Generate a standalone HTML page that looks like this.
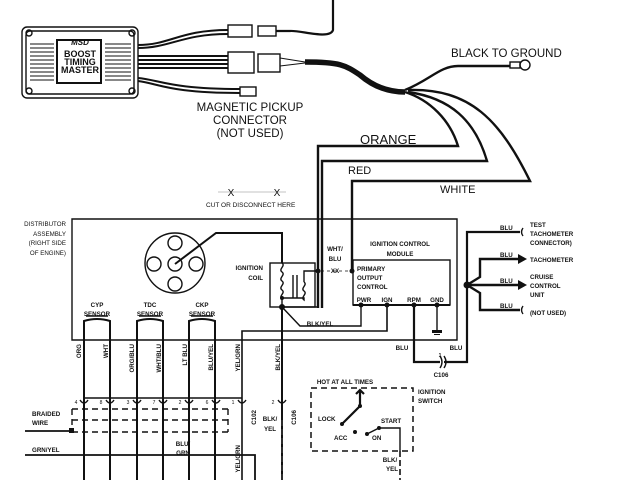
<!DOCTYPE html>
<html><head><meta charset="utf-8"><style>
html,body{margin:0;padding:0;background:#fff;}
svg{display:block}
text{font-family:"Liberation Sans",sans-serif;fill:#111}
</style></head><body>
<svg width="640" height="480" viewBox="0 0 640 480" xmlns="http://www.w3.org/2000/svg">
<rect width="640" height="480" fill="#fff"/>
<g fill="none" stroke="#111" stroke-width="1.4">
<rect x="22" y="27" width="116" height="71" rx="5"/>
<rect x="26" y="31" width="108" height="63" rx="4"/>
<circle cx="29" cy="33" r="3"/><circle cx="132" cy="33" r="3"/><circle cx="29" cy="91" r="3"/><circle cx="132" cy="91" r="3"/>
<rect x="57" y="40" width="44" height="43" stroke-width="2"/>
<g stroke-width="1">
<path d="M30 44h24M30 48h24M30 52h24M30 56h24M30 60h24M30 64h24M30 68h24M30 72h24M30 76h24M30 80h24"/>
<path d="M105 44h26M105 48h26M105 52h26M105 56h26M105 60h26M105 64h26M105 68h26M105 72h26M105 76h26M105 80h26"/>
</g>
<g stroke-width="2">
<path d="M138 45 C170 45,180 30,228 30"/><path d="M138 48 C170 48,182 34,228 34"/>
<path d="M138 56h90M138 60h90M138 64h90M138 68h90"/>
<path d="M138 78 C160 80,170 89,240 89"/><path d="M138 81 C160 84,170 93,240 93"/>
</g>
<rect x="228" y="25" width="24" height="12"/><rect x="258" y="26" width="18" height="10"/>
<rect x="228" y="52" width="26" height="21"/><rect x="258" y="54" width="22" height="18"/>
<rect x="240" y="87" width="16" height="9"/>
<path d="M276 31 H290 C300 30,330 40,333 30 V0" stroke-width="2.2"/>
<path d="M280 58 L305 62 M280 66 L305 63" stroke-width="1"/>
<path d="M305 62 C340 62,345 65,360 75 C375 88,390 92,405 92" stroke-width="5.5"/>
<path d="M405 90 C430 80,440 66,458 66 H510" stroke-width="2.4"/>
<rect x="510" y="62" width="10" height="6"/><circle cx="525" cy="65" r="5"/>
<path d="M405 92 C430 100,450 120,458 146 H318 V308" stroke-width="2.4"/>
<path d="M408 92 C450 98,475 120,487 161 H322 V308" stroke-width="2.4"/>
<path d="M408 90 C470 88,500 120,530 181 H352 V271" stroke-width="2.4"/>
<path d="M218 192h68" stroke-width="0.6" stroke="#888"/>
<path d="M72 219 H457 V340 H72 Z" stroke-width="1.4"/>
<circle cx="175" cy="263" r="30"/>
<circle cx="175" cy="243" r="7"/><circle cx="175" cy="284" r="7"/><circle cx="154" cy="264" r="7"/><circle cx="196" cy="264" r="7"/><circle cx="175" cy="264" r="7"/>
<path d="M175 264 L216 233 H282 V263" stroke-width="2"/>
<rect x="270" y="263" width="45" height="44"/>
<path d="M282 263 c4 3-4 6 0 9 c4 3-4 6 0 9 c4 3-4 6 0 9 c4 3-4 6 0 9" />
<path d="M282 298 V307"/><path d="M293 275 V298 M297 275 V298"/>
<path d="M304 282 c4 3-4 6 0 9 c4 3-4 6 0 9 V298 H282"/>
<path d="M304 282 V271 H318"/>
<path d="M315 271 H352" stroke-dasharray="3 3" stroke-width="0.8"/>
<path d="M282 307 H318"/>
<path d="M282 307 V480" stroke-width="2"/>
<path d="M282 307 L300 326 H361 V305"/>
<rect x="353" y="260" width="97" height="45"/>
<path d="M353 305 H450" stroke-width="2"/>
<path d="M242 480 V331 H387 V305" stroke-width="1.6"/>
<path d="M437 305 V330"/>
<path d="M414 305 V362 H440" stroke-width="2.2"/>
<path d="M440 356 q4 6 0 12 M444 356 q4 6 0 12"/>
<path d="M444 362 H467 V232 H520" stroke-width="2.2"/>
<path d="M467 285 L480 277 V259 H518" stroke-width="2.4"/>
<path d="M467 285 H518" stroke-width="2.4"/>
<path d="M467 285 L480 293 V310 H520" stroke-width="2.4"/>
<path d="M523 228 q-3 4 0 8 M523 306 q-3 4 0 8"/>
<g stroke-width="2">
<path d="M84 480 V321 q13-4 26 0 V480"/>
<path d="M137 480 V321 q13-4 26 0 V480"/>
<path d="M189 480 V321 q13-4 26 0 V480"/>
</g>
<path d="M86 316h22M139 316h22M191 316h22"/>
<path d="M84 398 H242" stroke-width="1.6"/>
<path d="M80 400 q4 6 8 0 M106 400 q4 6 8 0 M133 400 q4 6 8 0 M159 400 q4 6 8 0 M185 400 q4 6 8 0 M212 400 q4 6 8 0 M238 400 q4 6 8 0 M278 400 q4 6 8 0"/>
<path d="M72 409 H228 M72 420 H228 M72 432 H228 M72 409 V432 M228 409 V432" stroke-dasharray="6 4"/>
<path d="M25 431 H72" stroke-width="1.8"/>
<path d="M25 455 H255 V480" stroke-width="1.8"/>
<rect x="311" y="388" width="102" height="63" stroke-dasharray="6 4" stroke-width="1.5"/>
<path d="M342 424 L360 406 V390 M356 394 l4-4 4 4" stroke-width="2.2"/>
<path d="M367 434 L379 428 H400 V451"/>
<path d="M400 451 V480" stroke-dasharray="6 3" stroke-width="1.6"/>
<path d="M282 420 V480" stroke-dasharray="6 3" stroke-width="1.6" stroke="#fff"/>
<path d="M282 420 V480" stroke-dasharray="6 3" stroke-width="1.6"/>
</g>
<g fill="#111">
<circle cx="352" cy="271" r="2.5"/><circle cx="318" cy="271" r="2.5"/><circle cx="282" cy="307" r="3"/><circle cx="282" cy="298" r="2"/>
<circle cx="361" cy="305" r="2.5"/><circle cx="387" cy="305" r="2.5"/><circle cx="414" cy="305" r="2.5"/><circle cx="437" cy="305" r="2.5"/>
<circle cx="467" cy="285" r="3.5"/>
<path d="M518 254 L527 259 L518 264Z M518 280 L527 285 L518 290Z"/>
<path d="M432 330h10v3h-10z M434 334h6v1h-6z"/>
<circle cx="342" cy="424" r="2"/><circle cx="360" cy="406" r="2"/><circle cx="355" cy="432" r="2"/><circle cx="367" cy="434" r="2"/><circle cx="379" cy="428" r="2"/>
<rect x="69" y="428" width="5" height="5"/>
</g>
<g font-weight="bold" text-anchor="middle" font-size="6.5">
<text x="80" y="45" font-size="8" font-style="italic">MSD</text>
<text x="80" y="57" font-size="9">BOOST</text>
<text x="80" y="65" font-size="9">TIMING</text>
<text x="80" y="73" font-size="9">MASTER</text>
</g>
<g font-size="11.5" text-anchor="middle">
<text x="250" y="111">MAGNETIC PICKUP</text>
<text x="250" y="124">CONNECTOR</text>
<text x="250" y="137">(NOT USED)</text>
</g>
<text x="451" y="57" font-size="11.5">BLACK TO GROUND</text>
<text x="360" y="144" font-size="13">ORANGE</text>
<text x="348" y="174" font-size="11">RED</text>
<text x="440" y="193" font-size="11">WHITE</text>
<text x="231" y="196" font-size="10" text-anchor="middle">X</text>
<text x="277" y="196" font-size="10" text-anchor="middle">X</text>
<text x="206" y="207" font-size="6.5">CUT OR DISCONNECT HERE</text>
<g font-size="6.2" text-anchor="end">
<text x="66" y="226">DISTRIBUTOR</text><text x="66" y="236">ASSEMBLY</text><text x="66" y="245">(RIGHT SIDE</text><text x="66" y="255">OF ENGINE)</text>
<text x="263" y="270" font-weight="bold">IGNITION</text><text x="263" y="280" font-weight="bold">COIL</text>
</g>
<g font-size="6.2" text-anchor="middle" font-weight="bold">
<text x="97" y="307">CYP</text><text x="97" y="316">SENSOR</text>
<text x="150" y="307">TDC</text><text x="150" y="316">SENSOR</text>
<text x="202" y="307">CKP</text><text x="202" y="316">SENSOR</text>
<text x="400" y="246">IGNITION CONTROL</text><text x="400" y="256">MODULE</text>
<text x="335" y="251">WHT/</text><text x="335" y="261">BLU</text>
<text x="335" y="273">XX</text>
<text x="364" y="302">PWR</text><text x="387" y="302">IGN</text><text x="414" y="302">RPM</text><text x="437" y="302">GND</text>
<text x="320" y="326">BLK/YEL</text>
<text x="402" y="350">BLU</text><text x="456" y="350">BLU</text>
<text x="440" y="357" font-size="5">1</text>
<text x="441" y="377">C106</text>
<text x="270" y="421">BLK/</text><text x="270" y="431">YEL</text>
<text x="390" y="462">BLK/</text><text x="392" y="471">YEL</text>
<text x="183" y="446">BLU/</text><text x="183" y="455">GRN</text>
<text x="345" y="384">HOT AT ALL TIMES</text>
</g>
<g font-size="6.2" font-weight="bold">
<text x="357" y="271">PRIMARY</text><text x="357" y="280">OUTPUT</text><text x="357" y="289">CONTROL</text>
<text x="500" y="230">BLU</text><text x="500" y="257">BLU</text><text x="500" y="283">BLU</text><text x="500" y="308">BLU</text>
<text x="530" y="227">TEST</text><text x="530" y="236">TACHOMETER</text><text x="530" y="245">CONNECTOR)</text>
<text x="530" y="262">TACHOMETER</text>
<text x="530" y="279">CRUISE</text><text x="530" y="288">CONTROL</text><text x="530" y="297">UNIT</text>
<text x="530" y="315">(NOT USED)</text>
<text x="32" y="416">BRAIDED</text><text x="32" y="425">WIRE</text>
<text x="32" y="452">GRN/YEL</text>
<text x="418" y="394">IGNITION</text><text x="418" y="403">SWITCH</text>
<text x="318" y="421">LOCK</text><text x="334" y="440">ACC</text><text x="372" y="440">ON</text><text x="381" y="423">START</text>
</g>
<g font-size="6.2" text-anchor="end" font-weight="bold">
<text transform="translate(81,344) rotate(-90)">ORG</text>
<text transform="translate(108,344) rotate(-90)">WHT</text>
<text transform="translate(134,344) rotate(-90)">ORG/BLU</text>
<text transform="translate(161,344) rotate(-90)">WHT/BLU</text>
<text transform="translate(187,344) rotate(-90)">LT BLU</text>
<text transform="translate(213,344) rotate(-90)">BLU/YEL</text>
<text transform="translate(240,344) rotate(-90)">YEL/GRN</text>
<text transform="translate(280,344) rotate(-90)">BLK/YEL</text>
<text transform="translate(240,445) rotate(-90)">YEL/GRN</text>
<text transform="translate(256,410) rotate(-90)">C102</text>
<text transform="translate(296,410) rotate(-90)">C106</text>
</g>
<g font-size="5" text-anchor="middle">
<text x="76" y="404">4</text><text x="101" y="404">8</text><text x="128" y="404">3</text><text x="154" y="404">7</text><text x="180" y="404">2</text><text x="207" y="404">6</text><text x="233" y="404">1</text><text x="273" y="404">2</text>
</g>
</svg>
</body></html>
